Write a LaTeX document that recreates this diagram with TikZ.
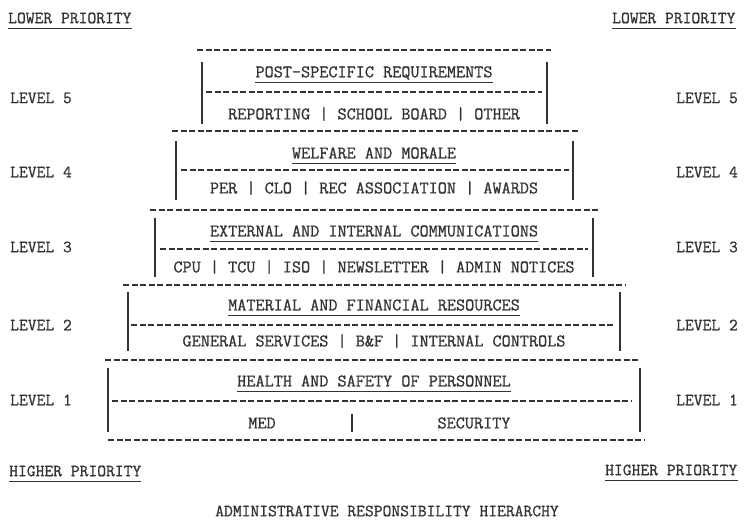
\documentclass[tikz,border=0pt]{standalone}
\usepackage{fontspec}
\newfontfamily\typewriter{Latin Modern Mono}[FakeBold=0.9]
\begin{document}
\begin{tikzpicture}[x=1pt,y=-1pt,
  ink/.style={color=black!80},
  txt/.style={ink,font=\typewriter\fontsize{17.1}{18}\selectfont,inner sep=0pt},
  boxtxt/.style={txt,font=\typewriter\fontsize{17.7}{18}\selectfont},
  rule/.style={ink,line width=1.1pt,dash pattern=on 6pt off 2.5pt},
  bar/.style={ink,line width=1.1pt},
  uline/.style={ink,line width=1.3pt}]
\useasboundingbox (0,0) rectangle (748,523);

% corner captions
\node[txt,anchor=west] (lpl) at (8,18) {LOWER PRIORITY};
\node[txt,anchor=west] (lpr) at (612,18) {LOWER PRIORITY};
\node[txt,anchor=west] (hpl) at (9,471) {HIGHER PRIORITY};
\node[txt,anchor=west] (hpr) at (605,470) {HIGHER PRIORITY};
\foreach \n in {lpl,lpr,hpl,hpr}
  \draw[uline] ([yshift=-5pt]\n.base west) -- ([yshift=-5pt]\n.base east);

% level labels on both sides
\foreach \lv/\y in {5/98,4/172,3/247,2/325,1/400}{
  \node[txt,anchor=west] (ll\lv) at (10,\y) {LEVEL \lv};
  \node[txt,anchor=west] (lr\lv) at (676,\y) {LEVEL \lv};
}

% one tier: top rule, side bars, underlined title, middle rule, entries
\foreach \lv/\top/\xl/\xr/\bl/\br/\bt/\bb/\ty/\my/\mxl/\mxr/\ry/\title/\row in {
  5/50/197/551/202/547/62/124/73/92/206/542/114/{POST-SPECIFIC REQUIREMENTS}/{REPORTING | SCHOOL BOARD | OTHER},
  4/131/172/578/176/573/141/200/153/170/181/569/188/{WELFARE AND MORALE}/{PER | CLO | REC ASSOCIATION | AWARDS},
  3/210/150/600/155/593/218/277/231/249/160/588/267/{EXTERNAL AND INTERNAL COMMUNICATIONS}/{CPU | TCU | ISO | NEWSLETTER | ADMIN NOTICES},
  2/285/123/626/128/620/292/351/305/325/131/615/341/{MATERIAL AND FINANCIAL RESOURCES}/{GENERAL SERVICES | B\&F | INTERNAL CONTROLS},
  1/360/105/640/108/640/368/432/381/401/112/632/423/{HEALTH AND SAFETY OF PERSONNEL}/{}}{
  \draw[rule] (\xl,\top) -- (\xr,\top);
  \draw[bar] (\bl,\bt) -- (\bl,\bb);
  \draw[bar] (\br,\bt) -- (\br,\bb);
  \node[boxtxt] (t\lv) at (374,\ty) {\title};
  \draw[uline] ([yshift=-5pt]t\lv.base west) -- ([yshift=-5pt]t\lv.base east);
  \draw[rule] (\mxl,\my) -- (\mxr,\my);
  \node[boxtxt] (r\lv) at (374,\ry) {\row};
}

% level 1 entries and the closing rule
\node[boxtxt] (med) at (262,423) {MED};
\node[boxtxt] (sec) at (474,423) {SECURITY};
\draw[bar] (352,414) -- (352,432);
\draw[rule] (108,440) -- (645,440);

% caption
\node[txt] (cap) at (387,511) {ADMINISTRATIVE RESPONSIBILITY HIERARCHY};
\end{tikzpicture}
\end{document}
